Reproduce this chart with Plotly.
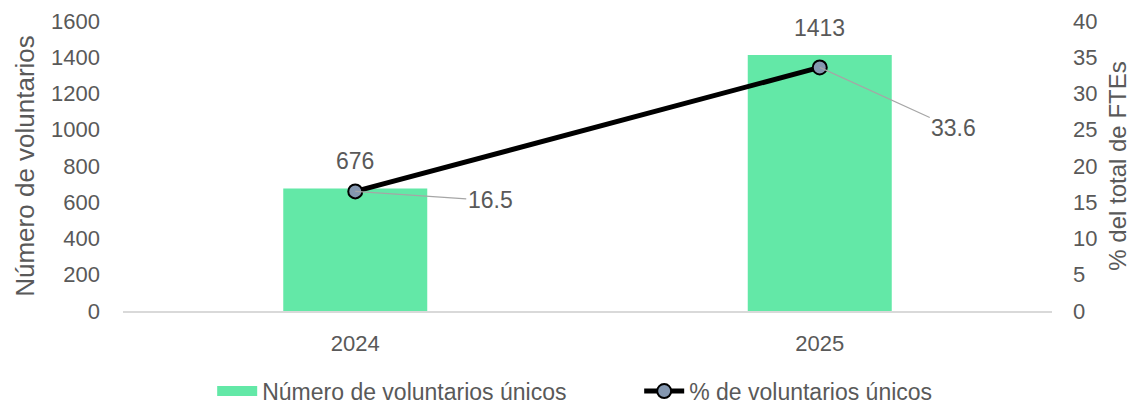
import plotly.graph_objects as go

years = ["2024", "2025"]
voluntarios = [676, 1413]
pct_fte = [16.5, 33.6]

bar_name = "Número de voluntarios únicos"
line_name = "% de voluntarios únicos"
y1_title = "Número de voluntarios"
y2_title = "% del total de FTEs"

txt = "#595959"
font = "Liberation Sans"
green = "#63E8A7"

fig = go.Figure()
fig.add_trace(go.Bar(
    x=years, y=voluntarios, name=bar_name, showlegend=False,
    marker=dict(color=green, line=dict(width=0)),
    width=0.31, yaxis="y",
))
# legend entry for bars (wide swatch)
fig.add_trace(go.Scatter(
    x=[None], y=[None], name=bar_name, mode="lines",
    line=dict(color=green, width=14), yaxis="y",
))
fig.add_trace(go.Scatter(
    x=years, y=pct_fte, name=line_name, yaxis="y2",
    mode="lines+markers",
    line=dict(color="black", width=5),
    marker=dict(size=14, color="#8497B0", line=dict(color="black", width=2)),
))

annotations = []
for i, v in enumerate(voluntarios):
    annotations.append(dict(x=i, y=v, xref="x", yref="y", text=str(v),
                            showarrow=False, yanchor="bottom", yshift=12,
                            font=dict(family=font, size=23, color=txt)))
offsets = [(135, 9), (134, 61)]
for i, (p, (ax, ay)) in enumerate(zip(pct_fte, offsets)):
    annotations.append(dict(x=i, y=p, xref="x", yref="y2", text=str(p),
                            showarrow=True, arrowhead=0, arrowwidth=1.2,
                            arrowcolor="#A6A6A6", ax=ax, ay=ay,
                            font=dict(family=font, size=23, color=txt)))

fig.update_layout(
    width=1129, height=397,
    margin=dict(l=115, r=85, t=13, b=94, autoexpand=False),
    paper_bgcolor="white", plot_bgcolor="white",
    font=dict(family=font, size=22, color=txt),
    showlegend=True,
    legend=dict(orientation="h", x=0.096, xanchor="left",
                yref="container", y=0.035, yanchor="middle",
                font=dict(family=font, size=23, color=txt),
                itemwidth=40, entrywidth=372, entrywidthmode="pixels",
                traceorder="normal"),
    xaxis=dict(type="category", range=[-0.5, 1.5], showgrid=False, showline=True,
               linecolor="#D9D9D9", linewidth=1.5, automargin=False,
               ticks="", tickfont=dict(size=22, color=txt), ticklabelstandoff=12),
    yaxis=dict(range=[0, 1600], dtick=200, showgrid=False, zeroline=False,
               showline=False, ticks="", tickfont=dict(size=22, color=txt),
               automargin=False,
               title=dict(text=y1_title, font=dict(size=26, color=txt), standoff=8),
               ticklabelstandoff=22),
    yaxis2=dict(range=[0, 40], dtick=5, overlaying="y", side="right",
                showgrid=False, zeroline=False, showline=False, ticks="",
                tickfont=dict(size=22, color=txt), automargin=False,
                title=dict(text=y2_title, font=dict(size=24, color=txt), standoff=12),
                ticklabelstandoff=20),
    annotations=annotations,
)

fig.write_html("out.html")
